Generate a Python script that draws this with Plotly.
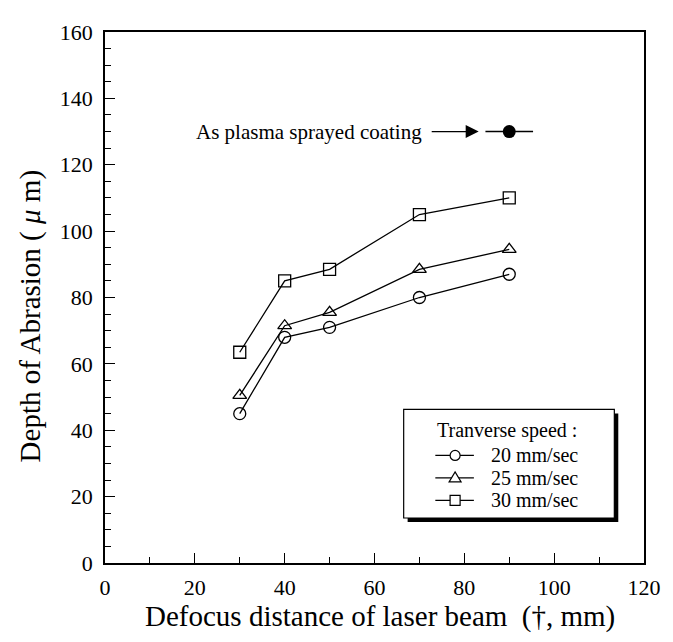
import plotly.graph_objects as go

# ---- data ----
defocus = [30, 40, 50, 70, 90]
depth_20 = [45, 68, 71, 80, 87]
depth_25 = [50.5, 71.5, 75.5, 88.5, 94.5]
depth_30 = [63.5, 85, 88.5, 105, 110]
series_names = ["20 mm/sec", "25 mm/sec", "30 mm/sec"]
series_symbols = ["circle-open", "triangle-up-open", "square-open"]
plasma_x = [90]
plasma_y = [130]
x_ticks = [0, 20, 40, 60, 80, 100, 120]
y_ticks = [0, 20, 40, 60, 80, 100, 120, 140, 160]
legend_title = "Tranverse speed :"
x_title = "Defocus distance of laser beam  (†, mm)"
y_title = "Depth of Abrasion ( <i>μ</i> m)"

FONT = "Liberation Serif, Times New Roman, serif"

# page is rendered with an 8px body margin; plot area spans page px 105..650 x 20..563
PL, PR, PT, PB = 105, 650, 20, 563


def pxx(p):
    return (p - PL) / float(PR - PL)


def pyy(p):
    return (PB - p) / float(PB - PT)


fig = go.Figure()
for name, ys, sym in zip(series_names, [depth_20, depth_25, depth_30], series_symbols):
    fig.add_trace(go.Scatter(
        x=defocus, y=ys, name=name, mode="lines+markers", showlegend=False,
        line=dict(color="black", width=1.3),
        marker=dict(symbol=sym, size=12, color="black", line=dict(width=1.3, color="black")),
    ))

fig.add_trace(go.Scatter(
    x=plasma_x, y=plasma_y, mode="markers", showlegend=False,
    marker=dict(symbol="circle", size=13, color="black"),
    error_x=dict(type="constant", value=5.3, width=0, thickness=1.4, color="black"),
))

# annotation text and arrow positioned relative to the plasma point
px, py = plasma_x[0], plasma_y[0]
fig.add_annotation(x=px - 18.9, y=py, xref="x", yref="y", text="As plasma sprayed coating",
                   showarrow=False, xanchor="right", yanchor="middle",
                   font=dict(family=FONT, size=21, color="black"))
fig.add_annotation(x=px - 6.8, y=py, ax=px - 17.6, ay=py, xref="x", yref="y",
                   axref="x", ayref="y", text="", showarrow=True,
                   arrowhead=2, arrowsize=2.0, arrowwidth=1.3, arrowcolor="black")

# ---- legend box with shadow (drawn manually) ----
fig.add_shape(type="rect", xref="paper", yref="paper", layer="above",
              x0=pxx(411), x1=pxx(624), y0=pyy(521), y1=pyy(410),
              fillcolor="black", line=dict(width=0))
fig.add_shape(type="rect", xref="paper", yref="paper", layer="above",
              x0=pxx(407), x1=pxx(620), y0=pyy(517), y1=pyy(406),
              fillcolor="white", line=dict(color="black", width=1.2))
fig.add_annotation(x=pxx(439), y=pyy(427), xref="paper", yref="paper", text=legend_title,
                   showarrow=False, xanchor="left", yanchor="middle",
                   font=dict(family=FONT, size=20, color="black"))

row_y = [453, 476, 499]
for name, sym, ry in zip(series_names, series_symbols, row_y):
    yc = pyy(ry)
    fig.add_shape(type="line", xref="paper", yref="paper", layer="above",
                  x0=pxx(439), x1=pxx(478), y0=yc, y1=yc, line=dict(color="black", width=1.2))
    common = dict(xref="paper", yref="paper", layer="above", xsizemode="pixel", ysizemode="pixel",
                  xanchor=pxx(459), yanchor=yc, fillcolor="white",
                  line=dict(color="black", width=1.2))
    if sym.startswith("circle"):
        fig.add_shape(type="circle", x0=-5, x1=5, y0=-5, y1=5, **common)
    elif sym.startswith("square"):
        fig.add_shape(type="rect", x0=-5, x1=5, y0=-5, y1=5, **common)
    else:
        fig.add_shape(type="path", path="M -6,-4 L 6,-4 L 0,6 Z", **common)
    fig.add_annotation(x=pxx(493), y=yc, xref="paper", yref="paper", text=name,
                       showarrow=False, xanchor="left", yanchor="middle",
                       font=dict(family=FONT, size=20, color="black"))

# axis titles
fig.add_annotation(x=pxx(383), y=pyy(618), xref="paper", yref="paper", text=x_title,
                   showarrow=False, xanchor="center", yanchor="middle",
                   font=dict(family=FONT, size=29, color="black"))
fig.add_annotation(x=pxx(30), y=pyy(311), xref="paper", yref="paper", text=y_title,
                   showarrow=False, xanchor="center", yanchor="middle", textangle=-90,
                   font=dict(family=FONT, size=29, color="black"))

axis_common = dict(
    showline=True, linecolor="black", linewidth=1.7, mirror=True,
    ticks="inside", ticklen=10, tickwidth=1.3, tickcolor="black",
    showgrid=False, zeroline=False,
    tickfont=dict(family=FONT, size=22, color="black"),
)

fig.update_xaxes(range=[0, 120], tickvals=x_ticks, ticktext=[str(v) for v in x_ticks],
                 minor=dict(dtick=10, ticks="inside", ticklen=6, tickwidth=1.2, tickcolor="black"),
                 ticklabelstandoff=4, **axis_common)
fig.update_yaxes(range=[0, 160], tickvals=y_ticks, ticktext=[str(v) for v in y_ticks],
                 minor=dict(dtick=5, ticks="inside", ticklen=6, tickwidth=1.2, tickcolor="black"),
                 ticklabelstandoff=6, **axis_common)

fig.update_layout(
    width=665, height=634,
    margin=dict(l=PL - 8, r=665 - (PR - 8), t=PT - 8, b=634 - (PB - 8)),
    paper_bgcolor="white", plot_bgcolor="white",
    showlegend=False,
)

fig.write_html("out.html")
